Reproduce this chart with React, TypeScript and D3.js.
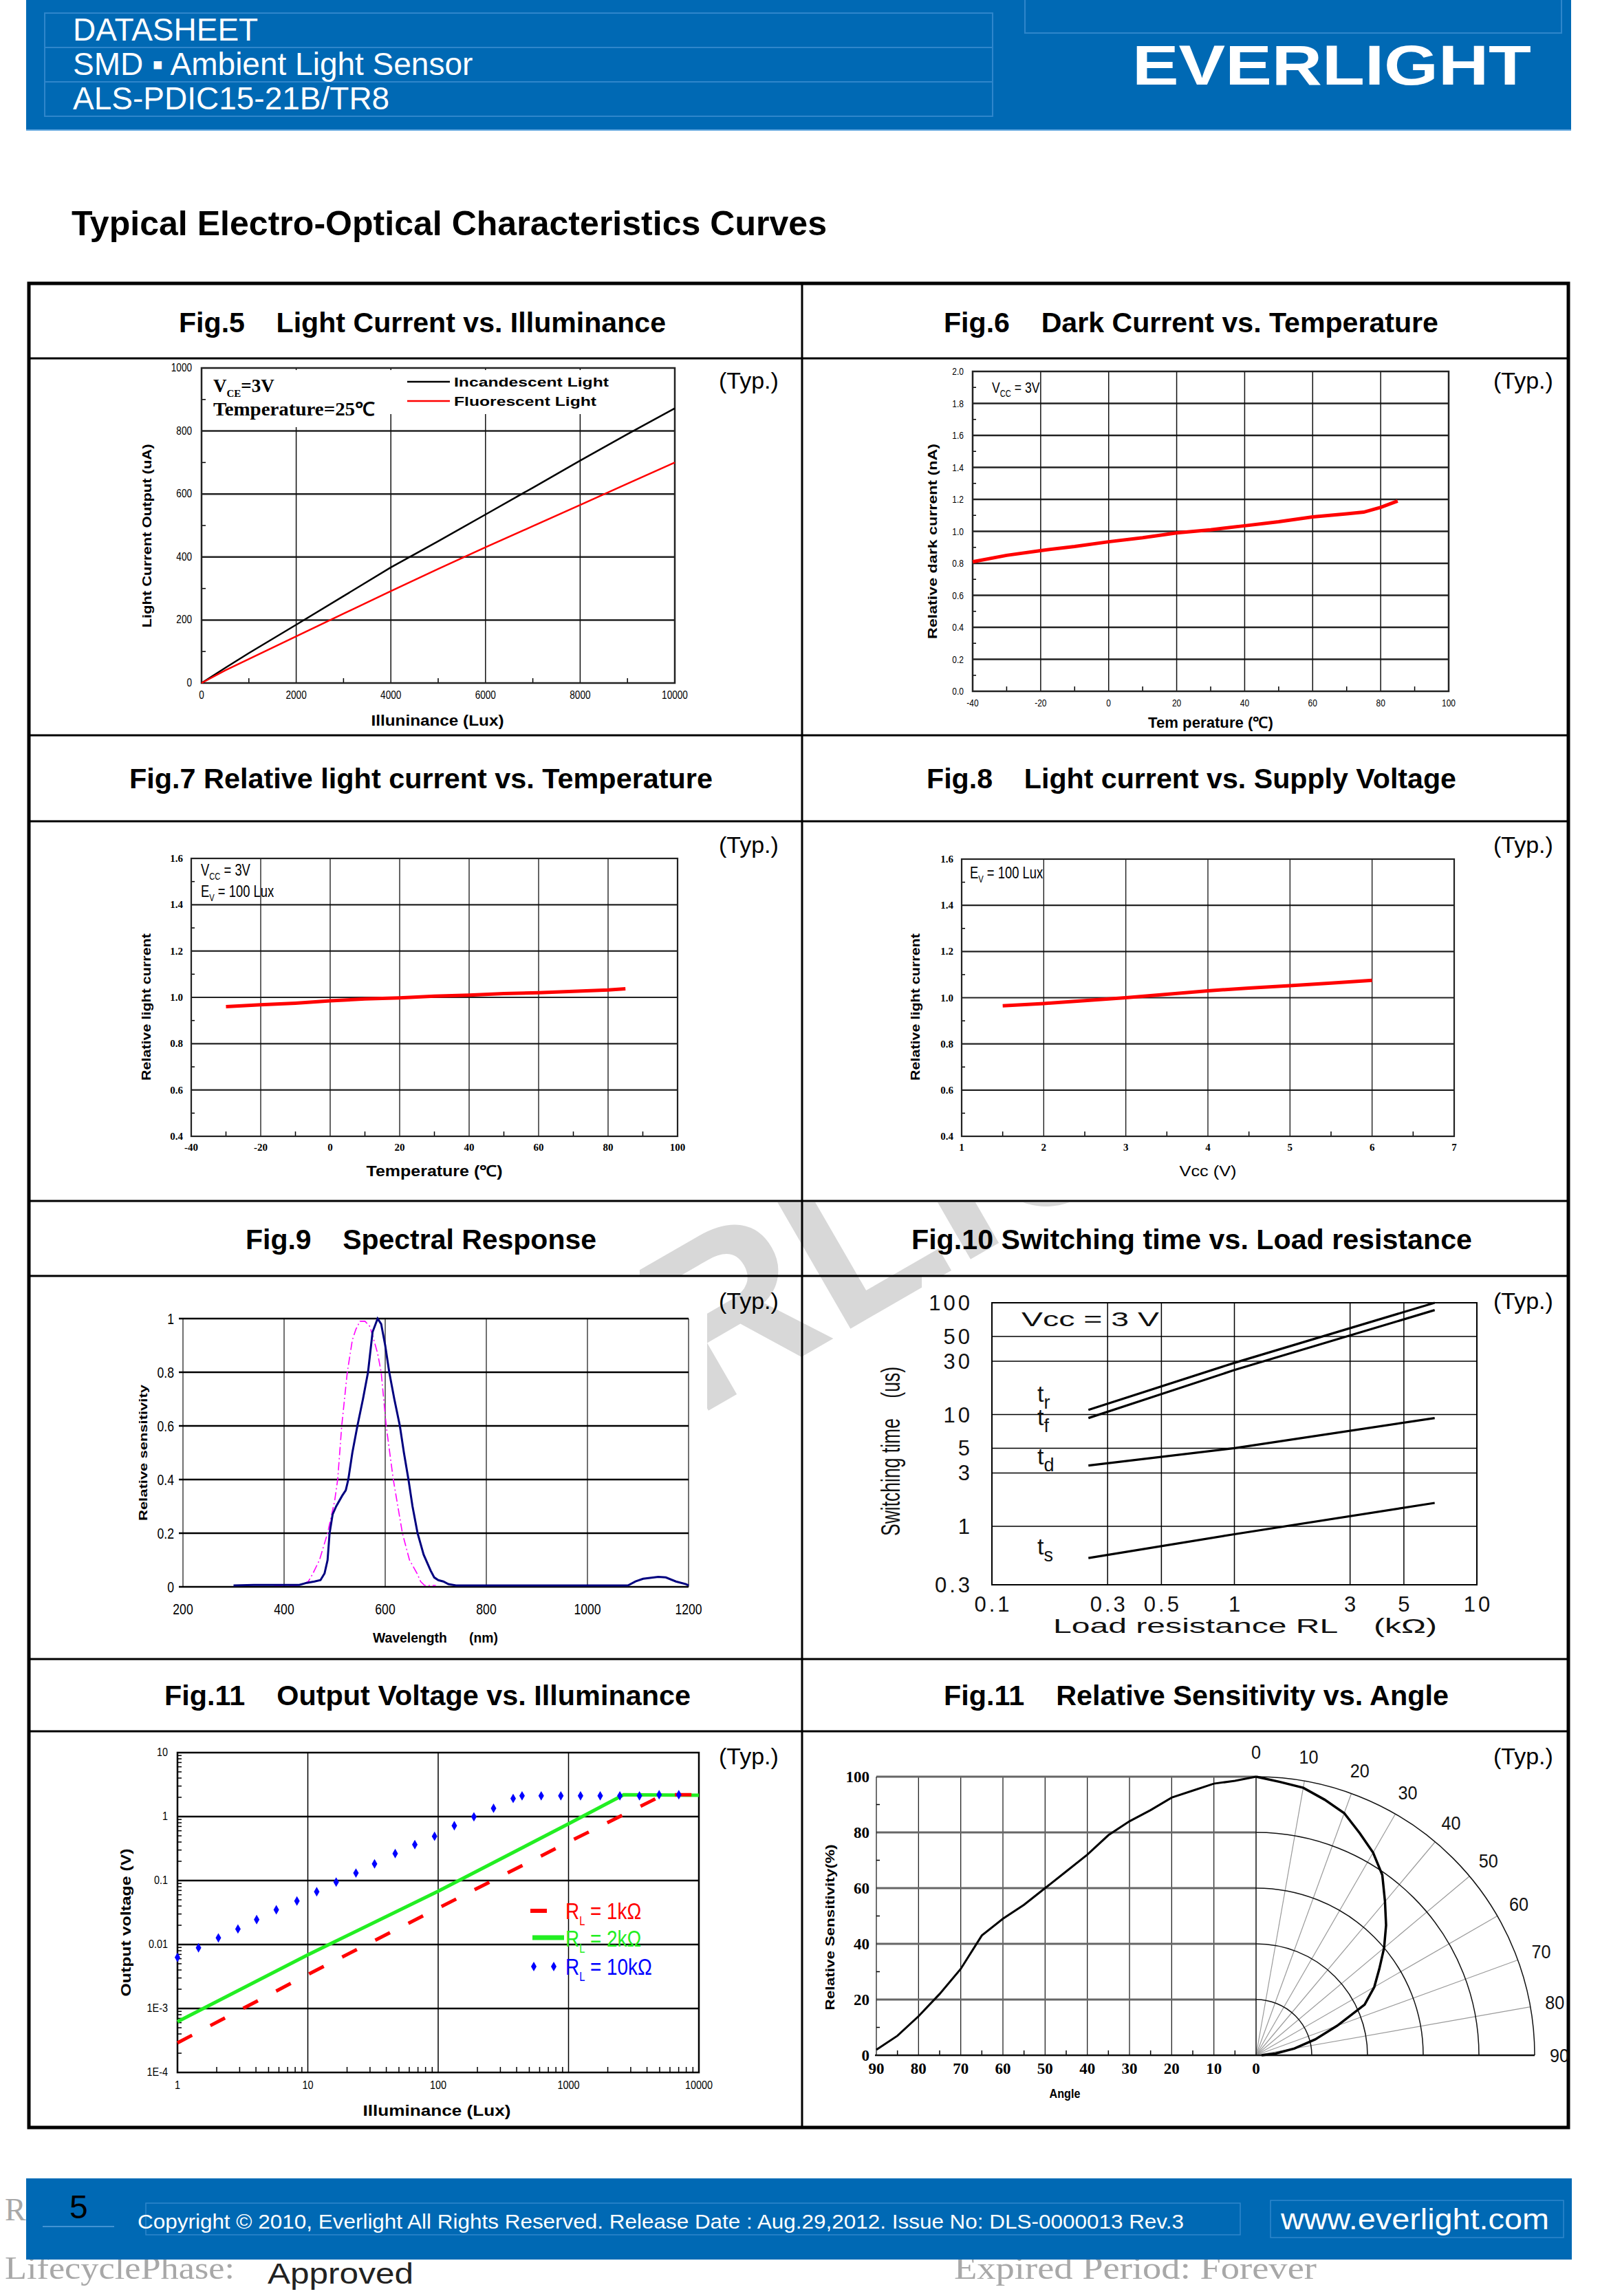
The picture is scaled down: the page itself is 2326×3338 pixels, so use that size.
import React, {useEffect} from 'react'
import * as d3 from 'd3'

const BLUE = '#0069b4'
const LIGHT = '#2f86cb'
const SANS = "'Liberation Sans', Arial, sans-serif"
const SERIF = "'Liberation Serif', 'Times New Roman', serif"

// Fig.5 light current vs illuminance
const fig5Lux = [0, 500, 1000, 2000, 3000, 4000, 5000, 6000, 7000, 8000, 9000, 10000]
const fig5Incandescent = [0, 48, 95, 185, 276, 367, 450, 535, 620, 706, 790, 872]
const fig5Fluorescent = [0, 40, 76, 148, 220, 292, 362, 431, 498, 565, 633, 700]
const fig5YTicks = [0, 200, 400, 600, 800, 1000]
const fig5XTicks = [0, 2000, 4000, 6000, 8000, 10000]

// Fig.6 dark current vs temperature
const fig6Temp = [-40, -30, -20, -10, 0, 10, 20, 30, 40, 50, 60, 70, 75, 80, 85]
const fig6Dark = [0.81, 0.85, 0.88, 0.905, 0.935, 0.96, 0.99, 1.01, 1.035, 1.06, 1.09, 1.11, 1.12, 1.15, 1.19]
const fig6YTicks = [0, 0.2, 0.4, 0.6, 0.8, 1.0, 1.2, 1.4, 1.6, 1.8, 2.0]
const tempTicks = [-40, -20, 0, 20, 40, 60, 80, 100]

// Fig.7 relative light current vs temperature
const fig7Temp = [-30, -20, -10, 0, 10, 20, 30, 40, 50, 60, 70, 80, 85]
const fig7Rel = [0.96, 0.968, 0.975, 0.985, 0.993, 0.998, 1.005, 1.01, 1.016, 1.02, 1.026, 1.032, 1.037]
const relYTicks = [0.4, 0.6, 0.8, 1.0, 1.2, 1.4, 1.6]

// Fig.8 light current vs supply voltage
const fig8Vcc = [1.5, 2, 2.5, 3, 3.5, 4, 4.5, 5, 5.5, 6]
const fig8Rel = [0.965, 0.975, 0.987, 1.0, 1.015, 1.03, 1.042, 1.052, 1.063, 1.075]
const fig8XTicks = [1, 2, 3, 4, 5, 6, 7]

// Fig.9 spectral response
const fig9SensorNm = [300, 340, 430, 445, 460, 472, 480, 486, 490, 496, 503, 515, 522, 527, 535, 545, 556, 566, 575, 585, 592, 600, 608, 618, 629, 637, 646, 654, 664, 676, 690, 697, 705, 715, 725, 740, 1080, 1095, 1110, 1140, 1155, 1175, 1195, 1200]
const fig9SensorVal = [0.005, 0.007, 0.007, 0.015, 0.02, 0.025, 0.05, 0.1, 0.2, 0.27, 0.3, 0.34, 0.36, 0.4, 0.5, 0.6, 0.7, 0.8, 0.95, 1.0, 0.98, 0.9, 0.8, 0.7, 0.6, 0.5, 0.4, 0.3, 0.2, 0.12, 0.06, 0.035, 0.025, 0.02, 0.01, 0.005, 0.005, 0.02, 0.03, 0.037, 0.035, 0.02, 0.01, 0.005]
const fig9EyeNm = [380, 430, 448, 457, 470, 486, 500, 506, 514, 525, 535, 542, 550, 560, 570, 576, 585, 592, 602, 609, 616, 625, 634, 648, 663, 670, 678, 700]
const fig9EyeVal = [0.005, 0.005, 0.02, 0.05, 0.1, 0.2, 0.32, 0.4, 0.6, 0.8, 0.92, 0.96, 0.99, 0.99, 0.97, 0.93, 0.87, 0.8, 0.6, 0.5, 0.4, 0.3, 0.2, 0.1, 0.05, 0.02, 0.005, 0.005]
const fig9XTicks = [200, 400, 600, 800, 1000, 1200]
const fig9YTicks = [0, 0.2, 0.4, 0.6, 0.8, 1]

// Fig.10 switching time vs load resistance
const fig10Load = [0.25, 1, 6.7]
const fig10Tr = [11, 29, 100]
const fig10Tf = [9.3, 25, 86]
const fig10Td = [3.5, 5.0, 9.3]
const fig10Ts = [0.52, 0.85, 1.62]
const fig10XTicks = [0.1, 0.3, 0.5, 1, 3, 5, 10]
const fig10YTicks = [0.3, 1, 3, 5, 10, 30, 50, 100]

// Fig.11 output voltage vs illuminance
const fig11Lux1k = [1, 10, 100, 1000, 4300, 5300, 10000]
const fig11V1k = [0.00029, 0.0034, 0.037, 0.4, 1.75, 2.19, 2.19]
const fig11Lux2k = [1, 10, 100, 1000, 2650, 10000]
const fig11V2k = [0.00062, 0.0069, 0.068, 0.77, 2.19, 2.15]
const fig11Lux10k = [1, 1.45, 2.06, 2.91, 4.05, 5.73, 8.25, 11.7, 16.5, 23.4, 32.5, 46.8, 66.2, 93.8, 133, 188, 266, 376, 440, 617, 873, 1236, 1750, 2476, 3500, 4955, 7015]
const fig11V10k = [0.0063, 0.0089, 0.0127, 0.0175, 0.0245, 0.0349, 0.0479, 0.067, 0.0946, 0.131, 0.182, 0.264, 0.365, 0.492, 0.721, 0.991, 1.35, 1.92, 2.11, 2.11, 2.11, 2.11, 2.11, 2.11, 2.11, 2.19, 2.19]
const fig11XTicks = [1, 10, 100, 1000, 10000]
const fig11YTicks = [1e-4, 1e-3, 0.01, 0.1, 1, 10]
const fig11YLabels = ['1E-4', '1E-3', '0.01', '0.1', '1', '10']

// Fig.11 (b) relative sensitivity vs angle
const fig12Angle = [90, 85, 80, 75, 70, 65, 60, 55, 50, 45, 40, 35, 30, 25, 20, 15, 10, 5, 0]
const fig12Sens = [2, 7, 14, 22, 31, 43, 49, 54, 60, 66, 72, 79, 84, 88, 92.5, 95, 97.5, 98.5, 100]
const fig12XTicks = [90, 80, 70, 60, 50, 40, 30, 20, 10, 0]
const fig12YTicks = [0, 20, 40, 60, 80, 100]
const fig12PolarTicks = [0, 10, 20, 30, 40, 50, 60, 70, 80, 90]

const figTitles = [
  'Fig.5    Light Current vs. Illuminance',
  'Fig.6    Dark Current vs. Temperature',
  'Fig.7 Relative light current vs. Temperature',
  'Fig.8    Light current vs. Supply Voltage',
  'Fig.9    Spectral Response',
  'Fig.10 Switching time vs. Load resistance',
  'Fig.11    Output Voltage vs. Illuminance',
  'Fig.11    Relative Sensitivity vs. Angle',
]

type Box = {l: number; r: number; t: number; b: number}
type Sc = (v: number) => number

function T({x, y, size, anchor = 'start', weight = 'normal', family = SANS, fill = '#000', sx = 1, rot = 0, len, ls, children}: any) {
  const tr = `translate(${x},${y})` + (rot ? ` rotate(${rot})` : '') + (sx !== 1 ? ` scale(${sx},1)` : '')
  return (
    <text
      transform={tr}
      fontSize={size}
      textAnchor={anchor}
      fontWeight={weight}
      fontFamily={family}
      fill={fill}
      textLength={len}
      lengthAdjust={len ? 'spacingAndGlyphs' : undefined}
      letterSpacing={ls}
      style={{whiteSpace: 'pre'}}>
      {children}
    </text>
  )
}

const hLines = (vals: number[], y: Sc, b: Box, stroke: string, w: number, x0 = b.l) =>
  vals.map(v => <line key={'h' + v} x1={x0} x2={b.r} y1={y(v)} y2={y(v)} stroke={stroke} strokeWidth={w} />)
const vLines = (vals: number[], x: Sc, b: Box, stroke: string, w: number, y0 = b.t) =>
  vals.map(v => <line key={'v' + v} x1={x(v)} x2={x(v)} y1={y0} y2={b.b} stroke={stroke} strokeWidth={w} />)
const leftTicks = (vals: number[], y: Sc, b: Box, len: number) =>
  vals.map(v => <line key={'lt' + v} x1={b.l} x2={b.l + len} y1={y(v)} y2={y(v)} stroke="#000" strokeWidth={1.5} />)
const bottomTicks = (vals: number[], x: Sc, b: Box, len: number) =>
  vals.map(v => <line key={'bt' + v} x1={x(v)} x2={x(v)} y1={b.b} y2={b.b - len} stroke="#000" strokeWidth={1.5} />)
const frame = (b: Box, w: number, stroke = '#000') => (
  <rect x={b.l} y={b.t} width={b.r - b.l} height={b.b - b.t} fill="none" stroke={stroke} strokeWidth={w} />
)
const pathOf = (xs: number[], ys: number[], x: Sc, y: Sc) =>
  d3.line<[number, number]>().x(d => x(d[0])).y(d => y(d[1]))(d3.zip(xs, ys) as [number, number][]) || ''

function Header() {
  return (
    <g>
      <rect x={38} y={0} width={2246} height={189} fill={BLUE} />
      {[19, 69, 119].map(y => (
        <rect key={y} x={65} y={y} width={1378} height={50} fill="none" stroke={LIGHT} strokeWidth={2} />
      ))}
      <rect x={1490} y={-2} width={780} height={50} fill="none" stroke={LIGHT} strokeWidth={2} />
      <line x1={38} x2={2284} y1={189} y2={189} stroke="#5aa2dd" strokeWidth={2} />
      <T x={106} y={59} size={46} fill="#fff">DATASHEET</T>
      <T x={106} y={109} size={46} fill="#fff">SMD ▪ Ambient Light Sensor</T>
      <T x={106} y={159} size={46} fill="#fff">ALS-PDIC15-21B/TR8</T>
      <T x={1646} y={123} size={82} weight="bold" fill="#fff" len={580}>EVERLIGHT</T>
      <T x={104} y={342} size={50} weight="bold" len={1098}>Typical Electro-Optical Characteristics Curves</T>
    </g>
  )
}

function Watermark() {
  return (
    <g clipPath="url(#wmclip)">
      <defs>
        <clipPath id="wmclip">
          <rect x={930} y={1748} width={780} height={106} />
          <rect x={1028} y={1856} width={312} height={240} />
        </clipPath>
      </defs>
      <text transform="translate(439,2392) rotate(-30)" fontSize={330} fontWeight="bold" fontFamily={SANS} fill="#d8d8d8">
        EVERLIGHT
      </text>
    </g>
  )
}

function Table() {
  const rowsY = [521, 1069, 1194, 1746, 1855, 2412, 2517]
  const titleY = [483, 1146, 1816, 2479]
  const titleX = [260, 1372, 188, 1347, 357, 1325, 239, 1372]
  const titleLen = [708, 719, 848, 770, 510, 815, 765, 734]
  const typX = [1045, 2171]
  const typY = [565, 1240, 1903, 2565]
  return (
    <g>
      {rowsY.map(y => (
        <line key={y} x1={42} x2={2280} y1={y} y2={y} stroke="#000" strokeWidth={3} />
      ))}
      <line x1={1166} x2={1166} y1={412} y2={3093} stroke="#000" strokeWidth={3} />
      <rect x={42} y={412} width={2238} height={2681} fill="none" stroke="#000" strokeWidth={5} />
      {figTitles.map((s, i) => (
        <T key={s} x={titleX[i]} y={titleY[Math.floor(i / 2)]} size={40} weight="bold" len={titleLen[i]}>
          {s}
        </T>
      ))}
      {typY.map(y =>
        typX.map(x => (
          <T key={x + '-' + y} x={x} y={y} size={34}>
            (Typ.)
          </T>
        ))
      )}
    </g>
  )
}

function Fig5() {
  const b: Box = {l: 293, r: 981, t: 535, b: 993}
  const x = d3.scaleLinear().domain([0, 10000]).range([b.l, b.r])
  const y = d3.scaleLinear().domain([0, 1000]).range([b.b, b.t])
  return (
    <g>
      {hLines(fig5YTicks.slice(1, -1), y, b, '#222', 2.5)}
      {vLines(fig5XTicks.slice(1, -1), x, b, '#111', 1.5)}
      <rect x={b.l + 3} y={b.t + 3} width={264} height={83} fill="#fff" />
      <rect x={562} y={b.t + 3} width={338} height={64} fill="#fff" />
      {leftTicks(d3.range(100, 1000, 200), y, b, 6)}
      {bottomTicks(d3.range(1000, 10000, 2000), x, b, 7)}
      {frame(b, 2.5, '#222')}
      <path d={pathOf(fig5Lux, fig5Incandescent, x, y)} fill="none" stroke="#000" strokeWidth={2.5} />
      <path d={pathOf(fig5Lux, fig5Fluorescent, x, y)} fill="none" stroke="#f00" strokeWidth={2.5} />
      {fig5YTicks.map(v => (
        <T key={v} x={b.l - 14} y={y(v) + 5} size={16} anchor="end" sx={0.85}>{v}</T>
      ))}
      {fig5XTicks.map(v => (
        <T key={v} x={x(v)} y={1016} size={16} anchor="middle" sx={0.85}>{v}</T>
      ))}
      <text x={310} y={570} fontFamily={SERIF} fontWeight="bold" fontSize={27}>
        V<tspan fontSize={15} dy={7}>CE</tspan>
        <tspan dy={-7}>=3V</tspan>
      </text>
      <T x={310} y={604} size={27} weight="bold" family={SERIF} len={235}>Temperature=25℃</T>
      <line x1={592} x2={654} y1={555} y2={555} stroke="#000" strokeWidth={2.5} />
      <line x1={592} x2={654} y1={583} y2={583} stroke="#f00" strokeWidth={2.5} />
      <T x={660} y={562} size={19} weight="bold" len={225}>Incandescent Light</T>
      <T x={660} y={590} size={19} weight="bold" len={207}>Fluorescent Light</T>
      <T x={220} y={779} size={19} weight="bold" rot={-90} anchor="middle" len={267}>Light Current Output (uA)</T>
      <T x={636} y={1055} size={22} weight="bold" anchor="middle" len={193}>Illuninance (Lux)</T>
    </g>
  )
}

function Fig6() {
  const b: Box = {l: 1414, r: 2106, t: 540, b: 1005}
  const x = d3.scaleLinear().domain([-40, 100]).range([b.l, b.r])
  const y = d3.scaleLinear().domain([0, 2]).range([b.b, b.t])
  const f = d3.format('.1f')
  return (
    <g>
      {hLines(fig6YTicks.slice(1, -1), y, b, '#222', 2.5)}
      {vLines(tempTicks.slice(1, -1), x, b, '#111', 1.5)}
      {leftTicks(d3.range(0.1, 2, 0.2), y, b, 5)}
      {bottomTicks(d3.range(-30, 100, 20), x, b, 7)}
      {frame(b, 2.5, '#222')}
      <path d={pathOf(fig6Temp, fig6Dark, x, y)} fill="none" stroke="#f00" strokeWidth={5} />
      {fig6YTicks.map(v => (
        <T key={v} x={b.l - 13} y={y(v) + 5} size={15} anchor="end" sx={0.8}>{f(v)}</T>
      ))}
      {tempTicks.map(v => (
        <T key={v} x={x(v)} y={1027} size={15} anchor="middle" sx={0.8}>{v}</T>
      ))}
      <text transform="translate(1442,571) scale(0.8,1)" fontFamily={SANS} fontSize={22}>
        V<tspan fontSize={14} dy={6}>CC</tspan>
        <tspan dy={-6}> = 3V</tspan>
      </text>
      <T x={1362} y={787} size={19} weight="bold" rot={-90} anchor="middle" len={284}>Relative dark current (nA)</T>
      <T x={1760} y={1058} size={22} weight="bold" anchor="middle" len={182}>Tem perature (℃)</T>
    </g>
  )
}

function RelChart({b, x, xs, ys, xTicks, minorX, annot, xTitle, xTitleLen, xTitleBold, yTitleX}: any) {
  const y = d3.scaleLinear().domain([0.4, 1.6]).range([b.b, b.t])
  const f = d3.format('.1f')
  return (
    <g>
      {hLines(relYTicks.slice(1, -1), y, b, '#222', 2.2)}
      {vLines(xTicks.slice(1, -1), x, b, '#111', 1.3)}
      {annot.w > 0 && <rect x={b.l + 3} y={b.t + 3} width={annot.w} height={annot.h} fill="#fff" />}
      {leftTicks([0.5, 0.7, 0.9, 1.1, 1.3, 1.5], y, b, 5)}
      {bottomTicks(minorX, x, b, 7)}
      {frame(b, 2.2, '#222')}
      <path d={pathOf(xs, ys, x, y)} fill="none" stroke="#f00" strokeWidth={5} />
      {relYTicks.map(v => (
        <T key={v} x={b.l - 12} y={y(v) + 5} size={15} anchor="end" weight="bold" family={SERIF}>{f(v)}</T>
      ))}
      {xTicks.map((v: number) => (
        <T key={v} x={x(v)} y={1673} size={15} anchor="middle" weight="bold" family={SERIF}>{v}</T>
      ))}
      {annot.el}
      <T x={yTitleX} y={1464} size={19} weight="bold" rot={-90} anchor="middle" len={214}>Relative light current</T>
      <T x={(b.l + b.r) / 2} y={1710} size={22} weight={xTitleBold ? 'bold' : 'normal'} anchor="middle" len={xTitleLen}>
        {xTitle}
      </T>
    </g>
  )
}

function Fig7() {
  const b: Box = {l: 278, r: 985, t: 1248, b: 1652}
  const x = d3.scaleLinear().domain([-40, 100]).range([b.l, b.r])
  const annot = {
    w: 90,
    h: 62,
    el: (
      <g>
        <text transform="translate(292,1273) scale(0.8,1)" fontFamily={SANS} fontSize={23}>
          V<tspan fontSize={14} dy={6}>CC</tspan>
          <tspan dy={-6}> = 3V</tspan>
        </text>
        <text transform="translate(292,1304) scale(0.8,1)" fontFamily={SANS} fontSize={23}>
          E<tspan fontSize={14} dy={6}>V</tspan>
          <tspan dy={-6}> = 100 Lux</tspan>
        </text>
      </g>
    ),
  }
  return (
    <RelChart
      b={b}
      x={x}
      xs={fig7Temp}
      ys={fig7Rel}
      xTicks={tempTicks}
      minorX={d3.range(-30, 100, 20)}
      annot={annot}
      xTitle="Temperature (℃)"
      xTitleLen={198}
      xTitleBold
      yTitleX={219}
    />
  )
}

function Fig8() {
  const b: Box = {l: 1398, r: 2114, t: 1249, b: 1652}
  const x = d3.scaleLinear().domain([1, 7]).range([b.l, b.r])
  const annot = {
    w: 0,
    h: 0,
    el: (
      <text transform="translate(1410,1277) scale(0.8,1)" fontFamily={SANS} fontSize={23}>
        E<tspan fontSize={14} dy={6}>V</tspan>
        <tspan dy={-6}> = 100 Lux</tspan>
      </text>
    ),
  }
  return (
    <RelChart
      b={b}
      x={x}
      xs={fig8Vcc}
      ys={fig8Rel}
      xTicks={fig8XTicks}
      minorX={d3.range(1.5, 7, 1)}
      annot={annot}
      xTitle="Vcc (V)"
      xTitleLen={83}
      xTitleBold={false}
      yTitleX={1337}
    />
  )
}

function Fig9() {
  const b: Box = {l: 266, r: 1001, t: 1917, b: 2307}
  const x = d3.scaleLinear().domain([200, 1200]).range([b.l, b.r])
  const y = d3.scaleLinear().domain([0, 1]).range([b.b, b.t])
  return (
    <g>
      {vLines(fig9XTicks.slice(1), x, b, '#111', 1.2)}
      <line x1={b.l} x2={b.l} y1={b.t} y2={b.b} stroke="#111" strokeWidth={1.2} />
      {hLines(fig9YTicks, y, b, '#000', 2.5, b.l - 6)}
      <path d={pathOf(fig9EyeNm, fig9EyeVal, x, y)} fill="none" stroke="#ff00ff" strokeWidth={1.6} strokeDasharray="12,4,2,4" />
      <path d={pathOf(fig9SensorNm, fig9SensorVal, x, y)} fill="none" stroke="#00007f" strokeWidth={3} />
      {fig9YTicks.map(v => (
        <T key={v} x={b.l - 13} y={y(v) + 8} size={22} anchor="end" sx={0.8}>{v}</T>
      ))}
      {fig9XTicks.map(v => (
        <T key={v} x={x(v)} y={2347} size={22} anchor="middle" sx={0.8}>{v}</T>
      ))}
      <T x={214} y={2112} size={17} weight="bold" rot={-90} anchor="middle" len={198}>Relative sensitivity</T>
      <T x={542} y={2388} size={20} weight="bold" len={182}>Wavelength      (nm)</T>
    </g>
  )
}

function Fig10() {
  const b: Box = {l: 1442, r: 2147, t: 1894, b: 2304}
  const x = d3.scaleLog().domain([0.1, 10]).range([b.l, b.r])
  const y = d3.scaleLog().domain([0.3, 100]).range([b.b, b.t])
  const series = [fig10Tr, fig10Tf, fig10Td, fig10Ts]
  const tLabels = [
    {s: 'r', y: 2038},
    {s: 'f', y: 2072},
    {s: 'd', y: 2129},
    {s: 's', y: 2260},
  ]
  return (
    <g>
      {hLines(fig10YTicks.slice(1, -1), y, b, '#000', 1.5)}
      {vLines(fig10XTicks.slice(1, -1), x, b, '#000', 1.5)}
      {frame(b, 2)}
      {series.map((s, i) => (
        <path key={i} d={pathOf(fig10Load, s, x, y)} fill="none" stroke="#000" strokeWidth={3.2} />
      ))}
      {fig10YTicks.map(v => (
        <T key={v} x={1414} y={y(v) + 11} size={31} anchor="end" ls={4} fill="#111">{v}</T>
      ))}
      {fig10XTicks.map(v => (
        <T key={v} x={x(v) + 2} y={2343} size={31} anchor="middle" ls={4} fill="#111">{v}</T>
      ))}
      <T x={1485} y={1928} size={30} len={200} fill="#111">Vcc = 3 V</T>
      {tLabels.map(t => (
        <text key={t.s} x={1508} y={t.y} fontFamily={SANS} fontSize={34} fill="#111">
          t<tspan fontSize={27} dy={10}>{t.s}</tspan>
        </text>
      ))}
      <T x={1531} y={2374} size={30} len={558} fill="#111">Load resistance RL    (kΩ)</T>
      <T x={1308} y={2110} size={38} rot={-90} anchor="middle" len={246} fill="#111">Switching time    (us)</T>
    </g>
  )
}

function Fig11() {
  const b: Box = {l: 258, r: 1016, t: 2548, b: 3013}
  const x = d3.scaleLog().domain([1, 10000]).range([b.l, b.r])
  const y = d3.scaleLog().domain([1e-4, 10]).range([b.b, b.t])
  const minorX = [1, 10, 100, 1000].flatMap(d => d3.range(2, 10).map(k => d * k))
  const minorY = [1e-4, 1e-3, 0.01, 0.1, 1].flatMap(d => d3.range(2, 10).map(k => d * k))
  const diamond = d3.symbol().type(d3.symbolDiamond).size(56)() || ''
  return (
    <g>
      {hLines(fig11YTicks.slice(1, -1), y, b, '#000', 2.5)}
      {vLines(fig11XTicks.slice(1, -1), x, b, '#000', 1.5)}
      {bottomTicks(minorX, x, b, 8)}
      {leftTicks(minorY, y, b, 6)}
      {frame(b, 2.5)}
      <path d={pathOf(fig11Lux2k, fig11V2k, x, y)} fill="none" stroke="#22ee22" strokeWidth={5} />
      <path d={pathOf(fig11Lux1k, fig11V1k, x, y)} fill="none" stroke="#f00" strokeWidth={5} strokeDasharray="24,30" />
      {fig11Lux10k.map((v, i) => (
        <path key={i} d={diamond} transform={`translate(${x(v)},${y(fig11V10k[i])})`} fill="#0000ff" />
      ))}
      {fig11YTicks.map((v, i) => (
        <T key={v} x={b.l - 14} y={y(v) + 5} size={16} anchor="end" sx={0.9}>{fig11YLabels[i]}</T>
      ))}
      {fig11XTicks.map(v => (
        <T key={v} x={x(v)} y={3037} size={17} anchor="middle" sx={0.85}>{v}</T>
      ))}
      <line x1={771} x2={795} y1={2778} y2={2778} stroke="#f00" strokeWidth={6} />
      <line x1={774} x2={820} y1={2817} y2={2817} stroke="#22ee22" strokeWidth={7} />
      <path d={diamond} transform="translate(776,2859)" fill="#0000ff" />
      <path d={diamond} transform="translate(805,2859)" fill="#0000ff" />
      {[
        {c: '#f00', y: 2790, v: '1kΩ'},
        {c: '#22ee22', y: 2830, v: '2kΩ'},
        {c: '#0000ff', y: 2871, v: '10kΩ'},
      ].map(l => (
        <text key={l.v} transform={`translate(822,${l.y}) scale(0.82,1)`} fontFamily={SANS} fontSize={34} fill={l.c}>
          R<tspan fontSize={18} dy={9}>L</tspan>
          <tspan dy={-9}> = {l.v}</tspan>
        </text>
      ))}
      <T x={190} y={2795} size={20} weight="bold" rot={-90} anchor="middle" len={215}>Output voltage (V)</T>
      <T x={635} y={3076} size={22} weight="bold" anchor="middle" len={215}>Illuminance (Lux)</T>
    </g>
  )
}

function Fig12() {
  const b: Box = {l: 1274, r: 1826, t: 2583, b: 2988}
  const x = d3.scaleLinear().domain([90, 0]).range([b.l, b.r])
  const y = d3.scaleLinear().domain([0, 100]).range([b.b, b.t])
  const cx = 1826
  const cy = 2988
  const rr = d3.scaleLinear().domain([0, 100]).range([0, 405])
  const arcPath = (r: number) => {
    const p = d3.path()
    p.arc(cx, cy, r, -Math.PI / 2, 0)
    return p.toString()
  }
  const radial =
    d3
      .lineRadial<number>()
      .angle((_, i) => (fig12Angle[i] * Math.PI) / 180)
      .radius(d => rr(d))(fig12Sens) || ''
  const rad = (a: number) => (a * Math.PI) / 180
  return (
    <g>
      {vLines(fig12XTicks.slice(1, -1), x, b, '#222', 1.3)}
      {hLines([20, 40, 60, 80, 100], y, b, '#666', 3)}
      <line x1={b.l} x2={b.l} y1={b.t} y2={b.b} stroke="#222" strokeWidth={1.3} />
      {bottomTicks(d3.range(5, 90, 10), x, b, 7)}
      {leftTicks(d3.range(10, 100, 20), y, b, 5)}
      <path d={pathOf(fig12Angle, fig12Sens, x, y)} fill="none" stroke="#000" strokeWidth={3} />
      {[10, 20, 30, 40, 50, 60, 70, 80].map(a => (
        <line
          key={a}
          x1={cx}
          y1={cy}
          x2={cx + rr(100) * Math.sin(rad(a))}
          y2={cy - rr(100) * Math.cos(rad(a))}
          stroke="#9a9a9a"
          strokeWidth={1.2}
        />
      ))}
      {[20, 40, 60, 80, 100].map(v => (
        <path key={v} d={arcPath(rr(v))} fill="none" stroke="#111" strokeWidth={1.5} />
      ))}
      <line x1={b.l - 2} x2={cx + rr(100)} y1={cy} y2={cy} stroke="#111" strokeWidth={2.5} />
      <line x1={cx} x2={cx} y1={cy - rr(100)} y2={cy} stroke="#111" strokeWidth={1.5} />
      <path d={radial} transform={`translate(${cx},${cy})`} fill="none" stroke="#000" strokeWidth={3.5} />
      {fig12YTicks.map(v => (
        <T key={v} x={b.l - 10} y={y(v) + 8} size={23} anchor="end" weight="bold" family={SERIF}>{v}</T>
      ))}
      {fig12XTicks.map(v => (
        <T key={v} x={x(v)} y={3015} size={23} anchor="middle" weight="bold" family={SERIF}>{v}</T>
      ))}
      {fig12PolarTicks.map(v => (
        <T key={v} x={cx + 441 * Math.sin(rad(v))} y={cy - 441 * Math.cos(rad(v)) + 10} size={28} anchor="middle" sx={0.9} fill="#111">
          {v}
        </T>
      ))}
      <T x={1548} y={3050} size={19} weight="bold" anchor="middle" sx={0.85}>Angle</T>
      <T x={1213} y={2802} size={19} weight="bold" rot={-90} anchor="middle" len={241}>Relative Sensitivity(%)</T>
    </g>
  )
}

function Footer() {
  return (
    <g>
      <T x={7} y={3228} size={46} family={SERIF} fill="#a8a8a8">R</T>
      <T x={7} y={3313} size={46} family={SERIF} fill="#a8a8a8" len={334}>LifecyclePhase:</T>
      <T x={1387} y={3313} size={46} family={SERIF} fill="#a8a8a8" len={527}>Expired Period: Forever</T>
      <rect x={38} y={3167} width={2247} height={118} fill={BLUE} />
      <T x={101} y={3225} size={48} fill="#000">5</T>
      <line x1={62} x2={166} y1={3237} y2={3237} stroke="#5aa2dd" strokeWidth={1.5} />
      <rect x={212} y={3203} width={1591} height={46} fill="none" stroke={LIGHT} strokeWidth={1.5} />
      <T x={200} y={3240} size={30} fill="#fff" len={1521}>
        Copyright © 2010, Everlight All Rights Reserved. Release Date : Aug.29,2012. Issue No: DLS-0000013 Rev.3
      </T>
      <rect x={1847} y={3199} width={426} height={54} fill="none" stroke={LIGHT} strokeWidth={1.5} />
      <T x={1862} y={3241} size={42} fill="#fff" len={390}>www.everlight.com</T>
      <T x={389} y={3320} size={42} fill="#222" len={212}>Approved</T>
    </g>
  )
}

export default function App() {
  useEffect(() => {
    document.documentElement.style.overflow = 'hidden'
    document.body.style.margin = '0'
  }, [])
  return (
    <svg width={2326} height={3338} style={{position: 'absolute', left: 0, top: 0, display: 'block'}} fontFamily={SANS}>
      <rect width={2326} height={3338} fill="#fff" />
      <Header />
      <Watermark />
      <Table />
      <Fig5 />
      <Fig6 />
      <Fig7 />
      <Fig8 />
      <Fig9 />
      <Fig10 />
      <Fig11 />
      <Fig12 />
      <Footer />
    </svg>
  )
}
